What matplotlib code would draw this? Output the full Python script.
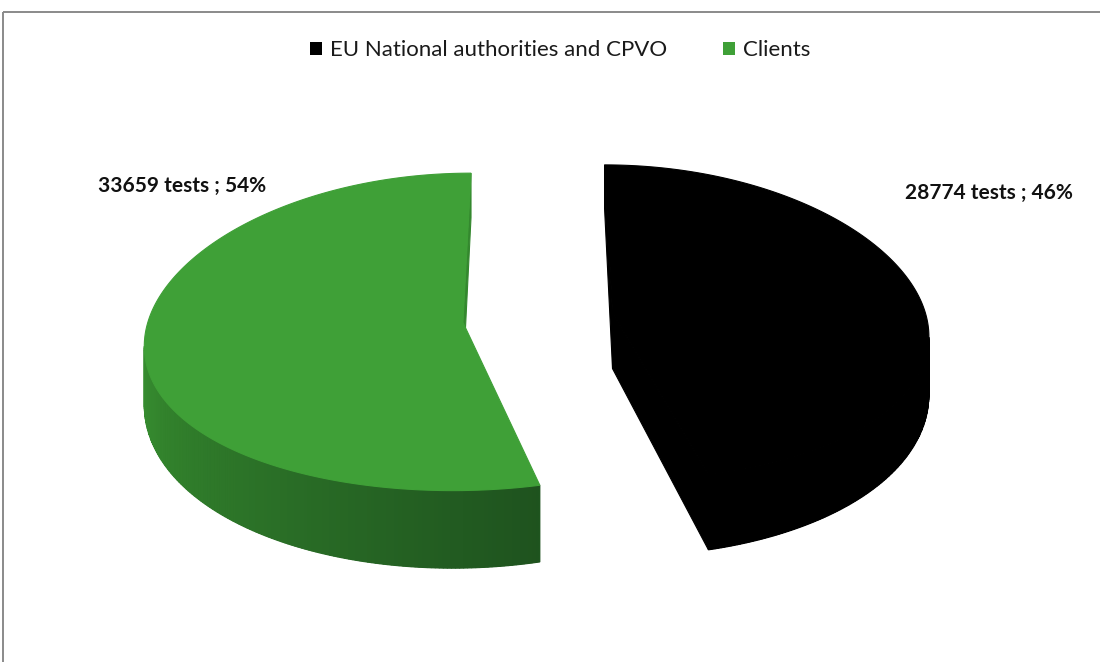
import numpy as np
import matplotlib.pyplot as plt
from matplotlib.patches import Polygon, Patch
from matplotlib.colors import to_rgb

# data
labels = ["EU National authorities and CPVO", "Clients"]
tests = [28774, 33659]
top_colors = ["#000000", "#3fa037"]
side_light = ["#000000", "#3a9532"]
side_dark = ["#000000", "#1e521e"]

# projection of the 3-d pie onto the pixel axes (Excel-like keystone view)
CX, CY = 538, 317.7
RX, RY = 314, 157.6
QH, QV = 0.12, 0.06
T0, QT = 56, 0.27
EXPLODE = 0.24
START = 90.0


def project(x, y, z):
    # z = 0 on the top face, -1 on the bottom face
    gx = CX + RX * x / (1 + QH * y)
    gy = CY - RY * y / (1 + QV * y) - T0 * z / (1 + QT * y)
    return gx, gy


def signed_area(pts):
    p = np.asarray(pts)
    x, y = p[:, 0], p[:, 1]
    return 0.5 * np.sum(x * np.roll(y, -1) - np.roll(x, -1) * y)


def mix(c1, c2, t):
    a, b = np.array(to_rgb(c1)), np.array(to_rgb(c2))
    return tuple(a + (b - a) * t)


fig = plt.figure(figsize=(11, 6.62), dpi=100)
ax = fig.add_axes([0, 0, 1, 1])
ax.set_xlim(0, 1100)
ax.set_ylim(662, 0)
ax.axis("off")

total = sum(tests)
fractions = np.array(tests) / total
bounds = START - np.concatenate([[0], np.cumsum(fractions)]) * 360

for i in range(len(tests)):
    a0, a1 = bounds[i], bounds[i + 1]
    mid = np.radians((a0 + a1) / 2)
    ox, oy = EXPLODE * np.cos(mid), EXPLODE * np.sin(mid)
    theta = np.radians(np.linspace(a1, a0, 300))
    rx, ry = ox + np.cos(theta), oy + np.sin(theta)
    light, dark = side_light[i], side_dark[i]

    faces = []
    band_top, band_bot = [], []
    # outer rim, split into thin strips for shading
    for k in range(len(theta) - 1):
        quad = [project(rx[k], ry[k], 0), project(rx[k + 1], ry[k + 1], 0),
                project(rx[k + 1], ry[k + 1], -1), project(rx[k], ry[k], -1)]
        if signed_area(quad) <= 0:
            continue
        tm = (theta[k] + theta[k + 1]) / 2
        t = np.clip(((np.degrees(tm) % 360) - 180) / 105, 0, 1)
        faces.append((oy + np.sin(tm), quad, mix(light, dark, t)))
        band_top += quad[:2]
        band_bot += quad[2:][::-1]
    # cut faces
    e0 = (ox + np.cos(np.radians(a0)), oy + np.sin(np.radians(a0)))
    e1 = (ox + np.cos(np.radians(a1)), oy + np.sin(np.radians(a1)))
    cuts = [
        [project(*e0, 0), project(ox, oy, 0), project(ox, oy, -1), project(*e0, -1)],
        [project(ox, oy, 0), project(*e1, 0), project(*e1, -1), project(ox, oy, -1)],
    ]
    for (ex, ey), quad in zip((e0, e1), cuts):
        if signed_area(quad) > 0:
            faces.append(((oy + ey) / 2, quad, mix(light, dark, 0.2)))

    if band_top:
        band = band_top + band_bot[::-1]
        ax.add_patch(Polygon(band, closed=True, facecolor=mix(light, dark, 0.5), edgecolor="none"))
    for _, quad, col in sorted(faces, key=lambda f: -f[0]):
        ax.add_patch(Polygon(quad, closed=True, facecolor=col, edgecolor=col, linewidth=0.8))

    top = [project(ox, oy, 0)] + [project(x, y, 0) for x, y in zip(rx, ry)]
    ax.add_patch(Polygon(top, closed=True, facecolor=top_colors[i], edgecolor=top_colors[i], linewidth=0.8))

# data labels
pct = [round(f * 100) for f in fractions]
ax.text(905, 193, f"{tests[0]} tests ; {pct[0]}%", fontsize=15, fontweight="bold",
        family="Lato", ha="left", va="center", color="#111111")
ax.text(98, 186, f"{tests[1]} tests ; {pct[1]}%", fontsize=15, fontweight="bold",
        family="Lato", ha="left", va="center", color="#111111")

# legend
handles = [Patch(facecolor=top_colors[0]), Patch(facecolor=top_colors[1])]
ax.legend(handles, labels, loc="center", bbox_to_anchor=(0.509, 0.924), ncol=2, frameon=False,
          prop={"family": "Lato", "size": 16}, handlelength=0.55, handleheight=0.55,
          handletextpad=0.35, columnspacing=2.5, labelcolor="#1a1a1a")

# frame
ax.plot([3, 1100], [12, 12], color="#8a8a8a", linewidth=1.4, solid_capstyle="butt")
ax.plot([3, 3], [12, 662], color="#8a8a8a", linewidth=1.4, solid_capstyle="butt")

fig.savefig("out.png", dpi=100, facecolor="white")
